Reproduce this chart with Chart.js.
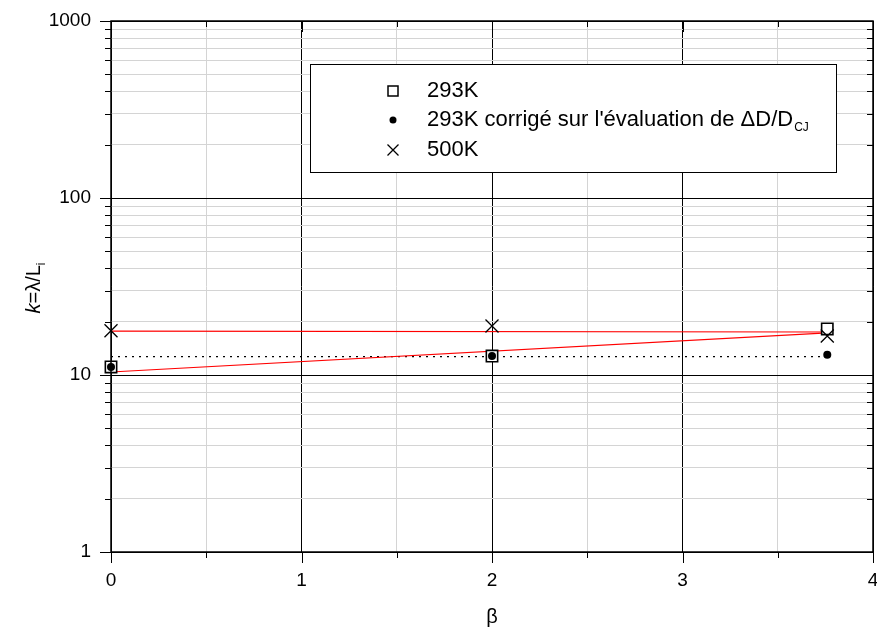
<!DOCTYPE html>
<html>
<head>
<meta charset="utf-8">
<script src="https://cdn.jsdelivr.net/npm/chart.js@4.4.1/dist/chart.umd.min.js"></script>
<style>
  html, body { margin: 0; padding: 0; background: #fff; }
  #wrap { width: 877px; height: 630px; }
</style>
</head>
<body>
<div id="wrap"><canvas id="chart" width="877" height="630"></canvas></div>
<script>
'use strict';

/* ── Data ──────────────────────────────────────────────────────────────── */
const beta293     = [0, 2, 3.76];
const k293        = [11.1, 12.8, 18.2];
const k293Corr    = [11.1, 12.8, 13.0];
const beta500     = [0, 2, 3.76];
const k500        = [17.8, 18.9, 16.6];

const fit500Beta  = [0, 3.76];
const fit500K     = [17.7, 17.5];
const fit293Beta  = [0, 3.76];
const fit293K     = [10.4, 17.3];
const meanBeta    = [0, 3.76];
const meanK       = [12.7, 12.7];

const xTickLabels = [0, 1, 2, 3, 4];
const yTickLabels = [1, 10, 100, 1000];

const FONT = '"Liberation Sans", Arial, sans-serif';
const MINOR_GRID = '#d4d4d4';

const pts = (xs, ys) => xs.map((x, i) => ({ x, y: ys[i] }));

/* ── Frame, ticks, legend and axis titles ──────────────────────────────── */
const framePlugin = {
  id: 'frame',
  afterDraw(chart) {
    const { ctx, chartArea: a, scales: { x, y } } = chart;
    ctx.save();

    // outward ticks on left/bottom, inward on right/top
    ctx.strokeStyle = '#000';
    ctx.lineWidth = 1;
    ctx.beginPath();
    y.ticks.forEach(t => {
      const py = Math.round(y.getPixelForValue(t.value)) + 0.5;
      const len = yTickLabels.includes(t.value) ? 11 : 6;
      ctx.moveTo(a.left - len, py); ctx.lineTo(a.left, py);
      ctx.moveTo(a.right, py); ctx.lineTo(a.right - len, py);
    });
    x.ticks.forEach(t => {
      const px = Math.round(x.getPixelForValue(t.value)) + 0.5;
      const len = Number.isInteger(t.value) ? 11 : 6;
      ctx.moveTo(px, a.bottom); ctx.lineTo(px, a.bottom + len);
      ctx.moveTo(px, a.top); ctx.lineTo(px, a.top + len);
    });
    ctx.stroke();

    ctx.lineWidth = 1.5;
    ctx.strokeRect(a.left, a.top, a.right - a.left, a.bottom - a.top);

    // legend box
    const lx = 310.5, ly = 64.5, lw = 526, lh = 108;
    ctx.fillStyle = '#fff';
    ctx.fillRect(lx, ly, lw, lh);
    ctx.lineWidth = 1;
    ctx.strokeRect(lx, ly, lw, lh);

    const symX = 393, textX = 427;
    const rows = [91, 120, 150];
    ctx.fillStyle = '#000';
    ctx.strokeStyle = '#000';

    // square
    ctx.lineWidth = 1.5;
    ctx.strokeRect(symX - 5, rows[0] - 5, 10, 10);
    // dot
    ctx.beginPath();
    ctx.arc(symX, rows[1], 3.5, 0, Math.PI * 2);
    ctx.fill();
    // cross
    ctx.lineWidth = 1.3;
    ctx.beginPath();
    ctx.moveTo(symX - 5.5, rows[2] - 5.5); ctx.lineTo(symX + 5.5, rows[2] + 5.5);
    ctx.moveTo(symX + 5.5, rows[2] - 5.5); ctx.lineTo(symX - 5.5, rows[2] + 5.5);
    ctx.stroke();

    ctx.font = '22px ' + FONT;
    ctx.textBaseline = 'middle';
    ctx.textAlign = 'left';
    ctx.fillText('293K', textX, rows[0]);
    const main = "293K corrigé sur l'évaluation de \u0394D/D";
    ctx.fillText(main, textX, rows[1]);
    const mw = ctx.measureText(main).width;
    ctx.font = '12px ' + FONT;
    ctx.fillText('CJ', textX + mw + 1, rows[1] + 8);
    ctx.font = '22px ' + FONT;
    ctx.fillText('500K', textX, rows[2]);

    // x title
    ctx.font = '20px ' + FONT;
    ctx.textAlign = 'center';
    ctx.fillText('\u03b2', (a.left + a.right) / 2, 617);

    // y title: k=λ/L with subscript i
    ctx.translate(34, 288);
    ctx.rotate(-Math.PI / 2);
    const parts = [
      { s: 'k', f: 'italic 20px ' + FONT, dy: 0 },
      { s: '=\u03bb/L', f: '20px ' + FONT, dy: 0 },
      { s: 'i', f: '12px ' + FONT, dy: 8 }
    ];
    let total = 0;
    parts.forEach(p => { ctx.font = p.f; p.w = ctx.measureText(p.s).width; total += p.w; });
    let cx = -total / 2;
    ctx.textAlign = 'left';
    parts.forEach(p => { ctx.font = p.f; ctx.fillText(p.s, cx, p.dy); cx += p.w; });

    ctx.restore();
  }
};

/* ── Chart ─────────────────────────────────────────────────────────────── */
new Chart(document.getElementById('chart'), {
  type: 'scatter',
  data: {
    datasets: [
      {
        label: "293K corrigé sur l'évaluation de ΔD/DCJ",
        data: pts(beta293, k293Corr),
        pointStyle: 'circle',
        pointRadius: 4,
        backgroundColor: '#000',
        borderColor: '#000',
        borderWidth: 0,
        clip: false
      },
      {
        label: '500K',
        data: pts(beta500, k500),
        pointStyle: 'crossRot',
        pointRadius: 9.2,
        borderColor: '#000',
        borderWidth: 1.3,
        clip: false
      },
      {
        label: '293K',
        data: pts(beta293, k293),
        pointStyle: 'rect',
        pointRadius: 8,
        backgroundColor: '#fff',
        borderColor: '#000',
        borderWidth: 1.6,
        clip: false
      },
      {
        label: 'fit 500K',
        data: pts(fit500Beta, fit500K),
        showLine: true,
        pointRadius: 0,
        borderColor: '#ff0000',
        borderWidth: 1.2
      },
      {
        label: 'fit 293K',
        data: pts(fit293Beta, fit293K),
        showLine: true,
        pointRadius: 0,
        borderColor: '#ff0000',
        borderWidth: 1.2
      },
      {
        label: 'moyenne',
        data: pts(meanBeta, meanK),
        showLine: true,
        pointRadius: 0,
        borderColor: '#000',
        borderWidth: 1.3,
        borderDash: [2, 5]
      }
    ]
  },
  options: {
    responsive: false,
    animation: false,
    events: [],
    layout: { autoPadding: false, padding: { top: 21, right: 4, left: 0, bottom: 0 } },
    plugins: { legend: { display: false }, tooltip: { enabled: false } },
    scales: {
      x: {
        type: 'linear',
        min: 0,
        max: 4,
        afterBuildTicks: s => {
          const t = [];
          for (let v = 0; v <= 4; v += 0.5) t.push({ value: v });
          s.ticks = t;
        },
        afterFit: s => { s.height = 78; s.paddingRight = 0; s.paddingLeft = 0; },
        ticks: {
          autoSkip: false,
          maxRotation: 0,
          padding: 17,
          color: '#000',
          font: { family: FONT, size: 19 },
          callback: v => (xTickLabels.includes(v) ? String(v) : '')
        },
        grid: {
          drawTicks: false,
          lineWidth: 1,
          color: c => (c.tick && Number.isInteger(c.tick.value) ? '#000' : MINOR_GRID)
        },
        border: { display: false }
      },
      y: {
        type: 'logarithmic',
        min: 1,
        max: 1000,
        afterBuildTicks: s => {
          const t = [];
          yTickLabels.slice(0, -1).forEach(d => {
            for (let m = 1; m < 10; m++) t.push({ value: m * d });
          });
          t.push({ value: yTickLabels[yTickLabels.length - 1] });
          s.ticks = t;
        },
        afterFit: s => { s.width = 111; s.paddingTop = 0; s.paddingBottom = 0; },
        ticks: {
          autoSkip: false,
          padding: 20,
          color: '#000',
          font: { family: FONT, size: 19 },
          callback: v => (yTickLabels.includes(v) ? String(v) : '')
        },
        grid: {
          drawTicks: false,
          lineWidth: 1,
          color: c => (c.tick && yTickLabels.includes(c.tick.value) ? '#000' : MINOR_GRID)
        },
        border: { display: false }
      }
    }
  },
  plugins: [framePlugin]
});
</script>
</body>
</html>
